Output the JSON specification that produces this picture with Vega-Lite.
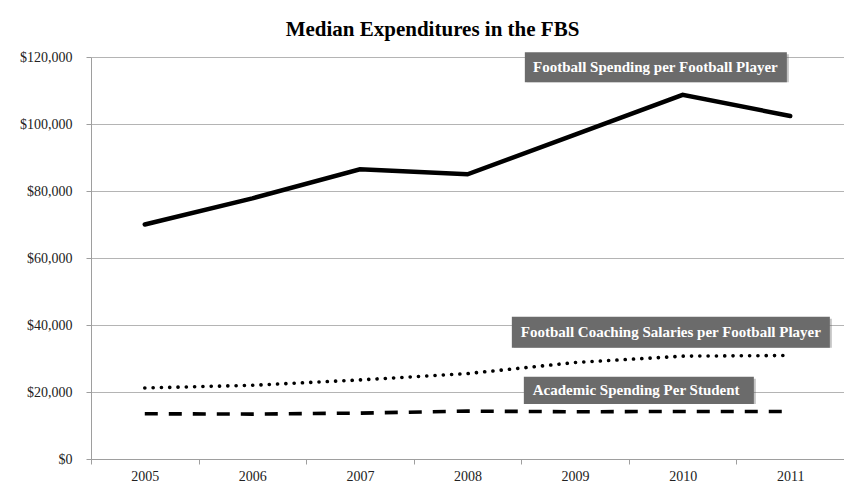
{
  "$schema": "https://vega.github.io/schema/vega-lite/v6.json",
  "width": 753,
  "height": 402,
  "autosize": "none",
  "padding": {"left": 91, "top": 57, "right": 0, "bottom": 32},
  "background": "white",
  "config": {"view": {"stroke": null}, "font": "Liberation Serif"},
  "title": {
    "text": "Median Expenditures in the FBS",
    "font": "Liberation Serif",
    "fontSize": 21,
    "fontWeight": "bold",
    "color": "#000000",
    "anchor": "middle",
    "frame": "group",
    "dx": -35,
    "dy": 27,
    "offset": 20,
    "baseline": "alphabetic"
  },
  "datasets": {
    "series": [
      {"series": "Football Spending per Football Player", "year": 2005, "value": 70000},
      {"series": "Football Spending per Football Player", "year": 2006, "value": 77800},
      {"series": "Football Spending per Football Player", "year": 2007, "value": 86500},
      {"series": "Football Spending per Football Player", "year": 2008, "value": 85000},
      {"series": "Football Spending per Football Player", "year": 2009, "value": 96800},
      {"series": "Football Spending per Football Player", "year": 2010, "value": 108700},
      {"series": "Football Spending per Football Player", "year": 2011, "value": 102400},
      {"series": "Football Coaching Salaries per Football Player", "year": 2005, "value": 21200},
      {"series": "Football Coaching Salaries per Football Player", "year": 2006, "value": 22000},
      {"series": "Football Coaching Salaries per Football Player", "year": 2007, "value": 23600},
      {"series": "Football Coaching Salaries per Football Player", "year": 2008, "value": 25500},
      {"series": "Football Coaching Salaries per Football Player", "year": 2009, "value": 28800},
      {"series": "Football Coaching Salaries per Football Player", "year": 2010, "value": 30700},
      {"series": "Football Coaching Salaries per Football Player", "year": 2011, "value": 30900},
      {"series": "Academic Spending Per Student", "year": 2005, "value": 13500},
      {"series": "Academic Spending Per Student", "year": 2006, "value": 13400},
      {"series": "Academic Spending Per Student", "year": 2007, "value": 13700},
      {"series": "Academic Spending Per Student", "year": 2008, "value": 14300},
      {"series": "Academic Spending Per Student", "year": 2009, "value": 14100},
      {"series": "Academic Spending Per Student", "year": 2010, "value": 14200},
      {"series": "Academic Spending Per Student", "year": 2011, "value": 14200}
    ],
    "labels": [
      {"key": "fs", "label": "Football Spending per Football Player", "year": 2010, "top": 121400, "bottom": 112450, "mid": 116900},
      {"key": "cs", "label": "Football Coaching Salaries per Football Player", "year": 2010, "top": 42480, "bottom": 33220, "mid": 37850},
      {"key": "as", "label": "Academic Spending Per Student", "year": 2010, "top": 24570, "bottom": 16420, "mid": 20490}
    ]
  },
  "data": {"name": "series"},
  "encoding": {
    "x": {
      "field": "year",
      "type": "ordinal",
      "scale": {"type": "band", "paddingInner": 0, "paddingOuter": 0},
      "axis": {
        "title": null,
        "labelAngle": 0,
        "tickBand": "extent",
        "grid": false,
        "domainColor": "#9e9e9e",
        "tickColor": "#9e9e9e",
        "tickSize": 5,
        "labelFont": "Liberation Serif",
        "labelFontSize": 14,
        "labelColor": "#222222",
        "labelPadding": 5
      }
    }
  },
  "layer": [
    {
      "transform": [{"filter": "datum.series == 'Football Spending per Football Player'"}],
      "mark": {"type": "line", "color": "#000000", "strokeWidth": 4.5, "strokeCap": "round", "strokeJoin": "miter"},
      "encoding": {
        "y": {
          "field": "value",
          "type": "quantitative",
          "scale": {"domain": [0, 120000], "nice": false},
          "axis": {
            "title": null,
            "values": [0, 20000, 40000, 60000, 80000, 100000, 120000],
            "format": "$,.0f",
            "grid": true,
            "gridColor": "#b4b4b4",
            "domainColor": "#9e9e9e",
            "tickColor": "#9e9e9e",
            "tickSize": 5,
            "labelFont": "Liberation Serif",
            "labelFontSize": 14,
            "labelColor": "#222222",
            "labelPadding": 14
          }
        }
      }
    },
    {
      "transform": [{"filter": "datum.series == 'Football Coaching Salaries per Football Player'"}],
      "mark": {"type": "line", "color": "#000000", "strokeWidth": 3.6, "strokeCap": "round", "strokeDash": [0.1, 8.2]},
      "encoding": {"y": {"field": "value", "type": "quantitative"}}
    },
    {
      "transform": [{"filter": "datum.series == 'Academic Spending Per Student'"}],
      "mark": {"type": "line", "color": "#000000", "strokeWidth": 3.6, "strokeCap": "butt", "strokeDash": [13, 11]},
      "encoding": {"y": {"field": "value", "type": "quantitative"}}
    },
    {
      "data": {"name": "labels"},
      "transform": [{"filter": "datum.key == 'fs'"}],
      "layer": [
        {"mark": {"type": "bar", "width": 262, "xOffset": -24.8, "yOffset": 2, "color": "#555555", "opacity": 0.35},
         "encoding": {"y": {"field": "top", "type": "quantitative"}, "y2": {"field": "bottom"}}},
        {"mark": {"type": "bar", "width": 262, "xOffset": -26.8, "color": "#6b6b6b"},
         "encoding": {"y": {"field": "top", "type": "quantitative"}, "y2": {"field": "bottom"}}},
        {"mark": {"type": "text", "xOffset": -27.3, "color": "#ffffff", "font": "Liberation Serif", "fontWeight": "bold", "fontSize": 15, "baseline": "middle", "align": "center"},
         "encoding": {"y": {"field": "mid", "type": "quantitative"}, "text": {"field": "label"}}}
      ]
    },
    {
      "data": {"name": "labels"},
      "transform": [{"filter": "datum.key == 'cs'"}],
      "layer": [
        {"mark": {"type": "bar", "width": 318, "xOffset": -9.8, "yOffset": 2, "color": "#555555", "opacity": 0.35},
         "encoding": {"y": {"field": "top", "type": "quantitative"}, "y2": {"field": "bottom"}}},
        {"mark": {"type": "bar", "width": 318, "xOffset": -11.8, "color": "#6b6b6b"},
         "encoding": {"y": {"field": "top", "type": "quantitative"}, "y2": {"field": "bottom"}}},
        {"mark": {"type": "text", "xOffset": -11.8, "color": "#ffffff", "font": "Liberation Serif", "fontWeight": "bold", "fontSize": 15, "baseline": "middle", "align": "center"},
         "encoding": {"y": {"field": "mid", "type": "quantitative"}, "text": {"field": "label"}}}
      ]
    },
    {
      "data": {"name": "labels"},
      "transform": [{"filter": "datum.key == 'as'"}],
      "layer": [
        {"mark": {"type": "bar", "width": 230, "xOffset": -41.8, "yOffset": 2, "color": "#555555", "opacity": 0.35},
         "encoding": {"y": {"field": "top", "type": "quantitative"}, "y2": {"field": "bottom"}}},
        {"mark": {"type": "bar", "width": 230, "xOffset": -43.8, "color": "#6b6b6b"},
         "encoding": {"y": {"field": "top", "type": "quantitative"}, "y2": {"field": "bottom"}}},
        {"mark": {"type": "text", "xOffset": -46.5, "color": "#ffffff", "font": "Liberation Serif", "fontWeight": "bold", "fontSize": 15, "baseline": "middle", "align": "center"},
         "encoding": {"y": {"field": "mid", "type": "quantitative"}, "text": {"field": "label"}}}
      ]
    }
  ]
}
